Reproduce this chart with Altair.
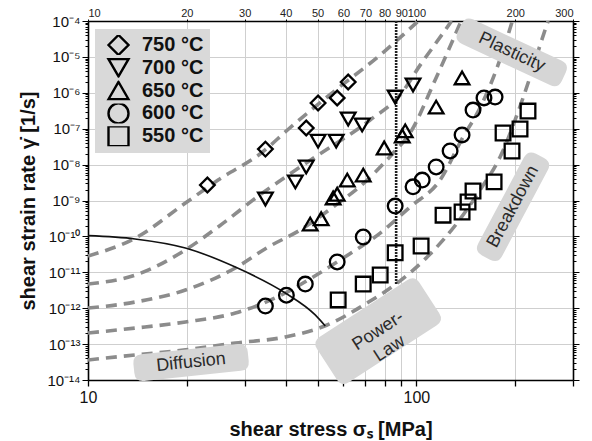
import altair as alt
import pandas as pd
import math

SERIES = ["750 °C", "700 °C", "650 °C", "600 °C", "550 °C"]
SHAPES = ["diamond", "triangle-down", "triangle-up", "circle", "square"]

# measured points (shear stress MPa, shear strain rate 1/s)
x750 = [23.1, 34.7, 46.2, 50.2, 57.4, 62.0]
y750 = [2.7e-9, 2.7e-8, 1.05e-7, 5.2e-7, 7.2e-7, 2.0e-6]
x700 = [34.7, 42.8, 46.2, 50.2, 57.0, 62.0, 68.4, 86.2, 97.7]
y700 = [1.1e-9, 3.3e-9, 8.6e-9, 4.5e-8, 4.5e-8, 1.86e-7, 1.27e-7, 7.6e-7, 1.65e-6]
x650 = [47.5, 51.3, 55.8, 57.4, 61.6, 68.9, 79.8, 90.6, 92.5, 114.9, 137.8]
y650 = [2.2e-10, 3.1e-10, 1.18e-9, 1.5e-9, 3.7e-9, 5.1e-9, 2.9e-8, 6.3e-8, 8.7e-8, 4.0e-7, 2.6e-6]
x600 = [34.7, 40.2, 45.9, 57.4, 68.9, 86.2, 97.7, 104.2, 114.9, 126.7, 137.8, 148.8, 160.7, 173.7]
y600 = [1.15e-12, 2.3e-12, 4.7e-12, 1.94e-11, 9.6e-11, 7.0e-10, 2.4e-9, 3.7e-9, 8.6e-9, 2.4e-8, 6.7e-8, 3.3e-7, 7.2e-7, 7.6e-7]
x550 = [57.8, 68.9, 77.6, 86.2, 103.4, 120.6, 137.8, 143.7, 148.8, 172.5, 183.7, 195.6, 206.9, 218.8]
y550 = [1.7e-12, 4.7e-12, 8.4e-12, 3.5e-11, 5.4e-11, 3.9e-10, 4.8e-10, 9.1e-10, 1.84e-9, 3.3e-9, 7.6e-8, 2.4e-8, 9.8e-8, 3.1e-7]

# deformation-mechanism model curves
cx750 = [10, 13.95, 19.8, 24.9, 34.0, 40.5, 55.8, 77.6, 100.6]
cy750 = [2.84e-11, 9.0e-11, 8.5e-10, 3.7e-9, 2.24e-8, 9.2e-8, 1.05e-6, 1.13e-5, 9.4e-5]
cx700 = [10, 13.95, 19.8, 24.9, 34.0, 39.9, 49.2, 72.3, 89.3, 102.7, 120.6, 128.0]
cy700 = [4.7e-12, 8.4e-12, 4.2e-11, 1.83e-10, 1.62e-9, 4.5e-9, 1.63e-8, 1.75e-7, 8.7e-7, 5.9e-6, 4.6e-5, 1.0e-4]
cx650 = [10, 13.95, 19.8, 28.1, 35.4, 44.3, 55.8, 70.8, 85.0, 95.7, 114.1, 136.9]
cy650 = [1.01e-12, 1.49e-12, 3.2e-12, 1.32e-11, 5.07e-11, 1.51e-10, 6.6e-10, 3.7e-9, 2.1e-8, 7.6e-8, 2.27e-6, 1.0e-4]
cx600 = [10, 13.95, 19.8, 28.1, 39.9, 48.5, 58.6, 77.6, 95.7, 118.1, 138.8, 156.3, 183.7, 196.0]
cy600 = [2.04e-13, 2.8e-13, 4.13e-13, 7.35e-13, 2.65e-12, 7.4e-12, 2.2e-11, 1.24e-10, 6.6e-10, 3.7e-9, 5.9e-8, 3.8e-7, 1.5e-5, 1.0e-4]
cx550 = [10, 13.95, 19.8, 28.1, 39.9, 53.5, 70.8, 87.4, 107.9, 133.1, 156.3, 179.9, 211.3, 246.6, 252.0]
cy550 = [3.6e-14, 5.0e-14, 6.9e-14, 1.07e-13, 1.58e-13, 3.4e-13, 1.4e-12, 5.0e-12, 2.67e-11, 2.36e-10, 1.96e-9, 1.63e-8, 7.2e-7, 5.6e-5, 1.0e-4]

# solid boundary curve
sx = [10, 13.9, 19.8, 28.1, 39.9, 49.2, 52.8]
sy = [1.05e-10, 8.5e-11, 4.75e-11, 1.4e-11, 2.65e-12, 6.5e-13, 3.2e-13]

# vertical limit line
limit_x = [86.8]
limit_y1 = [1e-4]
limit_y2 = [4.7e-12]

# region labels
label_text = ["Plasticity", "Breakdown", "Power-\nLaw", "Diffusion"]
label_x = [195.2, 197.0, 76.5, 20.6]
label_y = [1.34e-5, 6.7e-10, 2.3e-13, 3.07e-14]

x_ticks = [10, 20, 30, 40, 50, 60, 70, 80, 90, 100, 200, 300]
y_decades = [1e-14, 1e-13, 1e-12, 1e-11, 1e-10, 1e-9, 1e-8, 1e-7, 1e-6, 1e-5, 1e-4]

FONT = "Liberation Sans"

pts = pd.concat([
    pd.DataFrame({"x": xs, "y": ys, "series": s})
    for xs, ys, s in [(x750, y750, SERIES[0]), (x700, y700, SERIES[1]), (x650, y650, SERIES[2]),
                      (x600, y600, SERIES[3]), (x550, y550, SERIES[4])]
])
curves = pd.concat([
    pd.DataFrame({"x": xs, "y": ys, "series": s, "order": range(len(xs))})
    for xs, ys, s in [(cx750, cy750, SERIES[0]), (cx700, cy700, SERIES[1]), (cx650, cy650, SERIES[2]),
                      (cx600, cy600, SERIES[3]), (cx550, cy550, SERIES[4])]
])
solid = pd.DataFrame({"x": sx, "y": sy, "order": range(len(sx))})
limit = pd.DataFrame({"x": limit_x, "y": limit_y1, "y2": limit_y2})

# tick values for log axes
y_all = []
for d in y_decades[:-1]:
    for m in range(1, 10):
        y_all.append(float(f"{m * d:.3g}"))
y_all.append(y_decades[-1])

SUP = str.maketrans("-0123456789", "⁻⁰¹²³⁴⁵⁶⁷⁸⁹")
LOGE = "round(log(datum.value)/LN10)"
is_dec = f"abs(log(datum.value)/LN10 - {LOGE}) < 0.01"
lab = "''"
for d in y_decades:
    e = round(math.log10(d))
    lab = f"({LOGE} == {e} ? '10{str(e).translate(SUP)}' : {lab})"
y_label_expr = f"{is_dec} ? {lab} : ''"

xs_scale = alt.Scale(type="log", domain=[10, 300], nice=False)
ys_scale = alt.Scale(type="log", domain=[1e-14, 1e-4], nice=False)

bottom_axis = alt.Axis(
    orient="bottom", values=x_ticks, title="shear stress σₛ [MPa]",
    labelExpr="(datum.value == 10 || datum.value == 100) ? format(datum.value, 'd') : ''",
    labelFlush=False, labelFont=FONT, labelFontSize=16, labelColor="#111", labelPadding=3,
    tickSize=6, tickColor="black", tickWidth=1.3, domainColor="black", domainWidth=1.6,
    grid=True, gridColor="#cfcfcf", gridWidth=1,
    titleFont=FONT, titleFontSize=20, titleFontWeight="bold", titleColor="#111", titlePadding=14,
)
left_axis = alt.Axis(
    orient="left", values=y_all, title="shear strain rate γ̇ [1/s]",
    labelExpr=y_label_expr, labelFont=FONT, labelFontSize=15, labelColor="#111", labelPadding=2,
    labelOverlap=False,
    tickSize={"condition": {"test": is_dec, "value": 6}, "value": 3},
    tickColor="black", tickWidth=1, domainColor="black", domainWidth=1.6,
    grid=True, gridColor="#cfcfcf", gridWidth=1,
    gridOpacity={"condition": {"test": is_dec, "value": 1}, "value": 0},
    titleFont=FONT, titleFontSize=20, titleFontWeight="bold", titleColor="#111", titlePadding=8,
)
top_axis = alt.Axis(
    orient="top", values=x_ticks, title=None, format="d", labelOverlap=False,
    labelFont=FONT, labelFontSize=11, labelColor="#222", labelPadding=1,
    tickSize=2, tickColor="black", domainColor="black", domainWidth=1.6, grid=False,
)
right_axis = alt.Axis(
    orient="right", values=y_all, title=None, labels=False,
    tickSize={"condition": {"test": is_dec, "value": 6}, "value": 3},
    tickColor="black", tickWidth=1, domainColor="black", domainWidth=1.6, grid=False,
)

legend = alt.Legend(
    title=None, orient="none", legendX=7, legendY=8,
    fillColor="#d9d9d9", padding=6, symbolOffset=6,
    symbolSize=400, symbolStrokeWidth=2.4, symbolStrokeColor="black", symbolFillColor="transparent",
    labelFont=FONT, labelFontSize=20, labelFontWeight="bold", labelColor="#111",
    labelOffset=12, rowPadding=2.8, clipHeight=20,
)

dashed = alt.Chart(curves).mark_line(
    strokeDash=[11, 7], strokeWidth=3.6, color="#8c8c8c", interpolate="monotone", clip=True
).encode(
    x=alt.X("x:Q", scale=xs_scale, axis=top_axis),
    y=alt.Y("y:Q", scale=ys_scale, axis=right_axis),
    detail="series:N", order="order:Q",
)

solid_line = alt.Chart(solid).mark_line(
    color="#111", strokeWidth=1.6, interpolate="monotone", clip=True
).encode(
    x=alt.X("x:Q", scale=xs_scale, axis=None),
    y=alt.Y("y:Q", scale=ys_scale, axis=None),
    order="order:Q",
)

limit_line = alt.Chart(limit).mark_rule(
    color="#222", strokeWidth=2.6, strokeDash=[2, 1]
).encode(
    x=alt.X("x:Q", scale=xs_scale, axis=None),
    y=alt.Y("y:Q", scale=ys_scale, axis=None),
    y2="y2:Q",
)


def rrect(w, h, r):
    hh = h / w
    rr = r / (w / 2)
    f = lambda v: f"{v:.4f}"
    return (f"M{f(-1 + rr)},{f(-hh)} L{f(1 - rr)},{f(-hh)} Q1,{f(-hh)} 1,{f(-hh + rr)} "
            f"L1,{f(hh - rr)} Q1,{f(hh)} {f(1 - rr)},{f(hh)} L{f(-1 + rr)},{f(hh)} "
            f"Q-1,{f(hh)} -1,{f(hh - rr)} L-1,{f(-hh + rr)} Q-1,{f(-hh)} {f(-1 + rr)},{f(-hh)} Z")


box_style = [(115, 27, 9, 25), (115, 27, 9, 298), (122, 54, 9, 327), (115, 27, 9, 354)]
boxes = []
text_layers = []
for i, (w, h, r, ang) in enumerate(box_style):
    d = pd.DataFrame({"x": [label_x[i]], "y": [label_y[i]], "t": [label_text[i]]})
    boxes.append(
        alt.Chart(d).mark_point(
            shape=rrect(w, h, r), size=w * w, filled=True, color="#d6d6d6", opacity=1,
            angle=ang, strokeWidth=0,
        ).encode(
            x=alt.X("x:Q", scale=xs_scale, axis=None),
            y=alt.Y("y:Q", scale=ys_scale, axis=None),
        )
    )
    text_layers.append(
        alt.Chart(d).mark_text(
            font=FONT, fontSize=18, color="#2a2a2a", angle=ang, lineBreak="\n",
            align="center", baseline="middle", lineHeight=21,
        ).encode(
            x=alt.X("x:Q", scale=xs_scale, axis=None),
            y=alt.Y("y:Q", scale=ys_scale, axis=None),
            text="t:N",
        )
    )

markers = alt.Chart(pts).mark_point(
    filled=False, size=215, strokeWidth=2.3, color="black", opacity=1
).encode(
    x=alt.X("x:Q", scale=xs_scale, axis=bottom_axis),
    y=alt.Y("y:Q", scale=ys_scale, axis=left_axis),
    shape=alt.Shape("series:N", scale=alt.Scale(domain=SERIES, range=SHAPES), legend=legend),
)

chart = alt.layer(
    dashed, solid_line, limit_line, *boxes, *text_layers, markers
).resolve_axis(x="independent", y="independent").properties(
    width=485, height=359,
    autosize=alt.AutoSizeParams(type="none"),
    padding={"left": 80, "top": 13, "right": 11, "bottom": 61},
    background="white",
).configure_view(stroke=None)

chart.save("out.html", embed_options={"renderer": "svg", "actions": False})
